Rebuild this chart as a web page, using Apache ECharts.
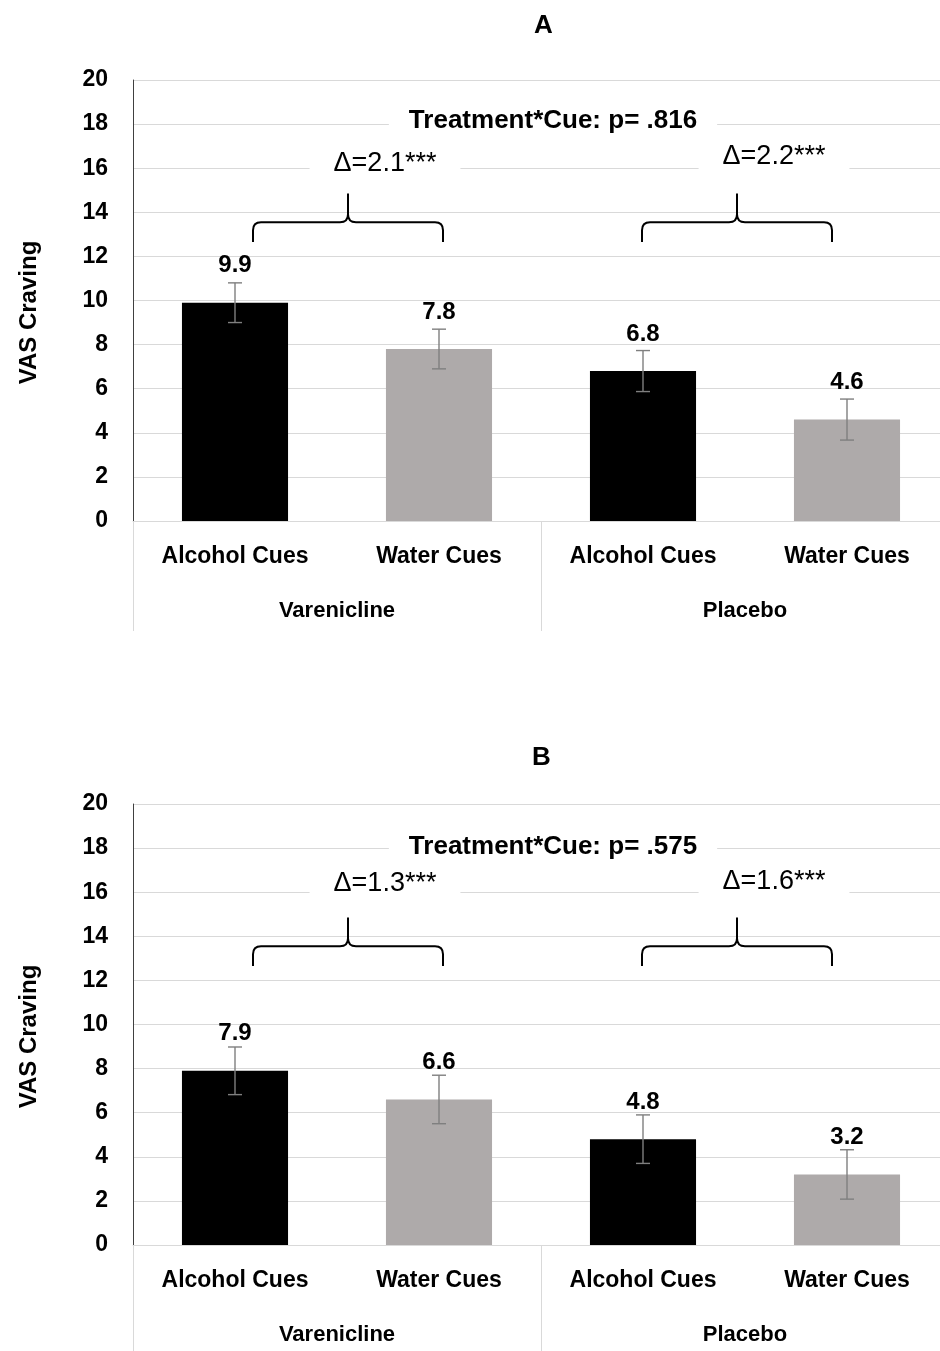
<!DOCTYPE html>
<html lang="en">
<head>
  <meta charset="UTF-8">
  <script src="https://cdn.jsdelivr.net/npm/echarts@6/dist/echarts.min.js"></script>
  <title>VAS craving</title>
</head>
<body style="margin:0;background:#fff;">
<div id="chart" style="width: 940px; height: 1351px;"></div>
<script type="text/javascript">
  // data
  let cues        = ['Alcohol Cues', 'Water Cues', 'Alcohol Cues', 'Water Cues'];
  let treatments  = ['Varenicline', 'Placebo'];
  let cravingA    = [9.9, 7.8, 6.8, 4.6];
  let errorA      = [0.9, 0.9, 0.93, 0.93];
  let cravingB    = [7.9, 6.6, 4.8, 3.2];
  let errorB      = [1.08, 1.1, 1.1, 1.12];
  let deltaA      = ['Δ=2.1***', 'Δ=2.2***'];
  let deltaB      = ['Δ=1.3***', 'Δ=1.6***'];
  let deltaYA     = [16.2, 16.55];
  let deltaYB     = [16.4, 16.5];
  let interactA   = 'Treatment*Cue: p= .816';
  let interactB   = 'Treatment*Cue: p= .575';
  let interactYA  = 18.15;
  let interactYB  = 18.05;
  let bracePairs  = [[0, 1], [2, 3]];

  const FONT = '"Liberation Sans", Arial, sans-serif';
  const barColors = ['#000000', '#aeaaaa', '#000000', '#aeaaaa'];
  // hand placed annotation offsets (px), as in the source figure
  const braceShift = [11, -8];
  const braceHalf = 95;

  function barData(vals) {
    return vals.map(function (v, i) {
      return {value: v, itemStyle: {color: barColors[i]}};
    });
  }

  function errorItem(params, api) {
    let x = api.value(0), v = api.value(1), e = api.value(2);
    let hi = api.coord([x, v + e]);
    let lo = api.coord([x, v - e]);
    let w = 7;
    let st = {stroke: '#7f7f7f', lineWidth: 1.4};
    return {
      type: 'group',
      children: [
        {type: 'line', shape: {x1: hi[0], y1: hi[1], x2: lo[0], y2: lo[1]}, style: st},
        {type: 'line', shape: {x1: hi[0] - w, y1: hi[1], x2: hi[0] + w, y2: hi[1]}, style: st},
        {type: 'line', shape: {x1: lo[0] - w, y1: lo[1], x2: lo[0] + w, y2: lo[1]}, style: st}
      ]
    };
  }

  function braceRenderer(texts) {
    return function (params, api) {
      let a = api.value(0), b = api.value(1), ly = api.value(2);
      let xm = (api.coord([a, 0])[0] + api.coord([b, 0])[0]) / 2 + braceShift[params.dataIndex];
      let x1 = xm - braceHalf;
      let x2 = xm + braceHalf;
      let yH = api.coord([a, 13.55])[1];
      let yE = api.coord([a, 12.65])[1];
      let yT = api.coord([a, 14.85])[1];
      let r = 8;
      let d = 'M' + x1 + ' ' + yE + ' L' + x1 + ' ' + (yH + r) +
          ' Q' + x1 + ' ' + yH + ' ' + (x1 + r) + ' ' + yH +
          ' L' + (xm - r) + ' ' + yH +
          ' Q' + xm + ' ' + yH + ' ' + xm + ' ' + (yH - r) +
          ' L' + xm + ' ' + yT +
          ' M' + xm + ' ' + (yH - r) +
          ' Q' + xm + ' ' + yH + ' ' + (xm + r) + ' ' + yH +
          ' L' + (x2 - r) + ' ' + yH +
          ' Q' + x2 + ' ' + yH + ' ' + x2 + ' ' + (yH + r) +
          ' L' + x2 + ' ' + yE;
      let ty = api.coord([a, ly])[1];
      return {
        type: 'group',
        children: [
          {type: 'path', shape: {pathData: d}, style: {stroke: '#000', lineWidth: 2, fill: null}},
          {type: 'text', style: {
            text: texts[params.dataIndex], x: xm + 37, y: ty,
            align: 'center', verticalAlign: 'middle',
            font: '27px ' + FONT, fill: '#000',
            backgroundColor: '#fff', padding: [4, 24]
          }}
        ]
      };
    };
  }

  function interactRenderer(text) {
    return function (params, api) {
      let p1 = api.coord([api.value(0), api.value(2)]);
      let p2 = api.coord([api.value(1), api.value(2)]);
      return {
        type: 'text', style: {
          text: text, x: (p1[0] + p2[0]) / 2 + 12, y: p1[1],
          align: 'center', verticalAlign: 'middle',
          font: 'bold 26px ' + FONT, fill: '#000',
          backgroundColor: '#fff', padding: [4, 20]
        }
      };
    };
  }

  function catAxis(grid) {
    return {
      type: 'category', gridIndex: grid, data: cues,
      axisLine: {lineStyle: {color: '#d9d9d9'}},
      axisTick: {show: false},
      axisLabel: {color: '#000', fontFamily: FONT, fontWeight: 'bold', fontSize: 23, margin: 23, lineHeight: 26}
    };
  }

  function groupAxis(grid) {
    return {
      type: 'category', gridIndex: grid, data: treatments, position: 'bottom',
      axisLine: {show: false},
      axisTick: {show: true, length: 110, lineStyle: {color: '#d9d9d9'}},
      axisLabel: {color: '#000', fontFamily: FONT, fontWeight: 'bold', fontSize: 22, margin: 77, lineHeight: 26}
    };
  }

  function valAxis(grid) {
    return {
      type: 'value', gridIndex: grid, min: 0, max: 20, interval: 2,
      name: 'VAS Craving', nameLocation: 'middle', nameGap: 92,
      nameTextStyle: {color: '#000', fontFamily: FONT, fontWeight: 'bold', fontSize: 24, padding: [0, 24, 0, 0]},
      axisLine: {show: true, lineStyle: {color: '#404040'}},
      axisTick: {show: false},
      splitLine: {lineStyle: {color: '#d9d9d9', width: 1.2}},
      axisLabel: {color: '#000', fontFamily: FONT, fontWeight: 'bold', fontSize: 23, margin: 25}
    };
  }

  function barSeries(i, vals) {
    return {
      type: 'bar', xAxisIndex: i * 2, yAxisIndex: i, data: barData(vals),
      barWidth: '52%',
      label: {show: true, position: 'top', distance: 25, color: '#000',
        fontFamily: FONT, fontWeight: 'bold', fontSize: 24},
      z: 2
    };
  }

  function errSeries(i, vals, errs) {
    return {
      type: 'custom', xAxisIndex: i * 2, yAxisIndex: i,
      data: vals.map(function (v, k) { return [k, v, errs[k]]; }),
      renderItem: errorItem, z: 3
    };
  }

  let chart = echarts.init(document.getElementById('chart'));
  chart.setOption({
    animation: false,
    backgroundColor: '#fff',
    title: [
      {text: 'A', left: 529, top: 8, textStyle: {fontFamily: FONT, fontWeight: 'bold', fontSize: 26, color: '#000'}},
      {text: 'B', left: 527, top: 740, textStyle: {fontFamily: FONT, fontWeight: 'bold', fontSize: 26, color: '#000'}}
    ],
    grid: [
      {left: 133, top: 80, width: 816, height: 441, outerBoundsMode: 'none'},
      {left: 133, top: 804, width: 816, height: 441, outerBoundsMode: 'none'}
    ],
    xAxis: [catAxis(0), groupAxis(0), catAxis(1), groupAxis(1)],
    yAxis: [valAxis(0), valAxis(1)],
    series: [
      barSeries(0, cravingA),
      barSeries(1, cravingB),
      errSeries(0, cravingA, errorA),
      errSeries(1, cravingB, errorB),
      {
        type: 'custom', xAxisIndex: 0, yAxisIndex: 0, z: 4,
        data: bracePairs.map(function (p, k) { return [p[0], p[1], deltaYA[k]]; }),
        renderItem: braceRenderer(deltaA)
      },
      {
        type: 'custom', xAxisIndex: 2, yAxisIndex: 1, z: 4,
        data: bracePairs.map(function (p, k) { return [p[0], p[1], deltaYB[k]]; }),
        renderItem: braceRenderer(deltaB)
      },
      {
        type: 'custom', xAxisIndex: 0, yAxisIndex: 0, z: 4,
        data: [[1, 2, interactYA]], renderItem: interactRenderer(interactA)
      },
      {
        type: 'custom', xAxisIndex: 2, yAxisIndex: 1, z: 4,
        data: [[1, 2, interactYB]], renderItem: interactRenderer(interactB)
      }
    ]
  });
</script>
</body>
</html>
